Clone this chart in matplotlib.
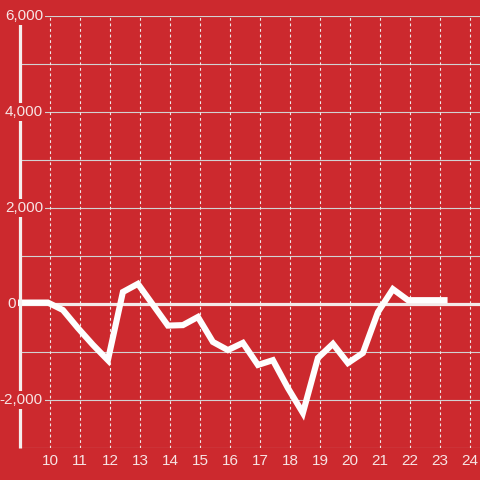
import matplotlib
matplotlib.use('Agg')
import matplotlib.pyplot as plt

# datos de la serie (hora del dia, valor)
horas = [9.0, 9.93, 10.43, 10.93, 11.43, 11.93, 12.43, 12.93, 13.43, 13.93,
         14.43, 14.93, 15.43, 15.93, 16.43, 16.93, 17.43, 17.93, 18.43, 18.93,
         19.43, 19.93, 20.43, 20.93, 21.43, 21.93, 22.43, 22.93, 23.15]
valores = [30, 30, -125, -500, -850, -1170, 250, 420, -15, -450,
           -440, -270, -790, -960, -810, -1270, -1170, -1750, -2270, -1125,
           -830, -1230, -1020, -170, 310, 80, 80, 80, 80]

ticks_x = list(range(10, 25))
ticks_y = [-2000, 0, 2000, 4000, 6000]
etiquetas_y = ['-2,000', '0', '2,000', '4,000', '6,000']
grid_y = [-3000, -2000, -1000, 1000, 2000, 3000, 4000, 5000, 6000]

rojo = '#cc292e'
texto = '#f7e4e4'

fig = plt.figure(figsize=(4.8, 4.8), dpi=100, facecolor=rojo)
ax = fig.add_axes([20/480., 32/480., 460/480., 432/480.])
ax.set_facecolor(rojo)
ax.set_xlim(9, 9 + 460/30.)
ax.set_ylim(-3000, 6000)
for s in ax.spines.values():
    s.set_visible(False)
ax.set_yticks([])
ax.set_xticks(ticks_x)
ax.set_xticklabels([str(t) for t in ticks_x], fontsize=11, color=texto,
                   family='Liberation Sans')
ax.tick_params(axis='x', length=0, pad=4.5)

# lineas de la grilla
for g in grid_y:
    ax.axhline(g, color='#d2d2d2', lw=0.8, zorder=1)
for t in ticks_x:
    ax.axvline(t, color='#f0e8e8', lw=0.8, dashes=(2.5, 2.5), zorder=1)
ax.plot([9 - 3/30., 9 + 460/30.], [0, 0], color='#f3e9e9', lw=2.3, zorder=2,
        clip_on=False)

# la serie
ax.plot(horas, valores, color='#fefefe', lw=4.4, solid_joinstyle='miter',
        solid_capstyle='projecting', zorder=3, clip_on=False)

# eje izquierdo
ax.plot([9, 9], [-3000, 6000], color='#f5eeee', lw=2.3, zorder=4,
        clip_on=False, solid_capstyle='butt')

# etiquetas del eje y con fondo rojo ("0" queda a la izquierda del eje)
for v, e in zip(ticks_y, etiquetas_y):
    xr = 9 + 23/30. if e != '0' else 9 - 4/30.
    ax.text(xr, v, e, ha='right', va='center', fontsize=11,
            color=texto, family='Liberation Sans', zorder=5, clip_on=False,
            bbox=dict(facecolor=rojo, edgecolor='none', pad=1.5))

fig.savefig('out.png', dpi=100, facecolor=rojo)
